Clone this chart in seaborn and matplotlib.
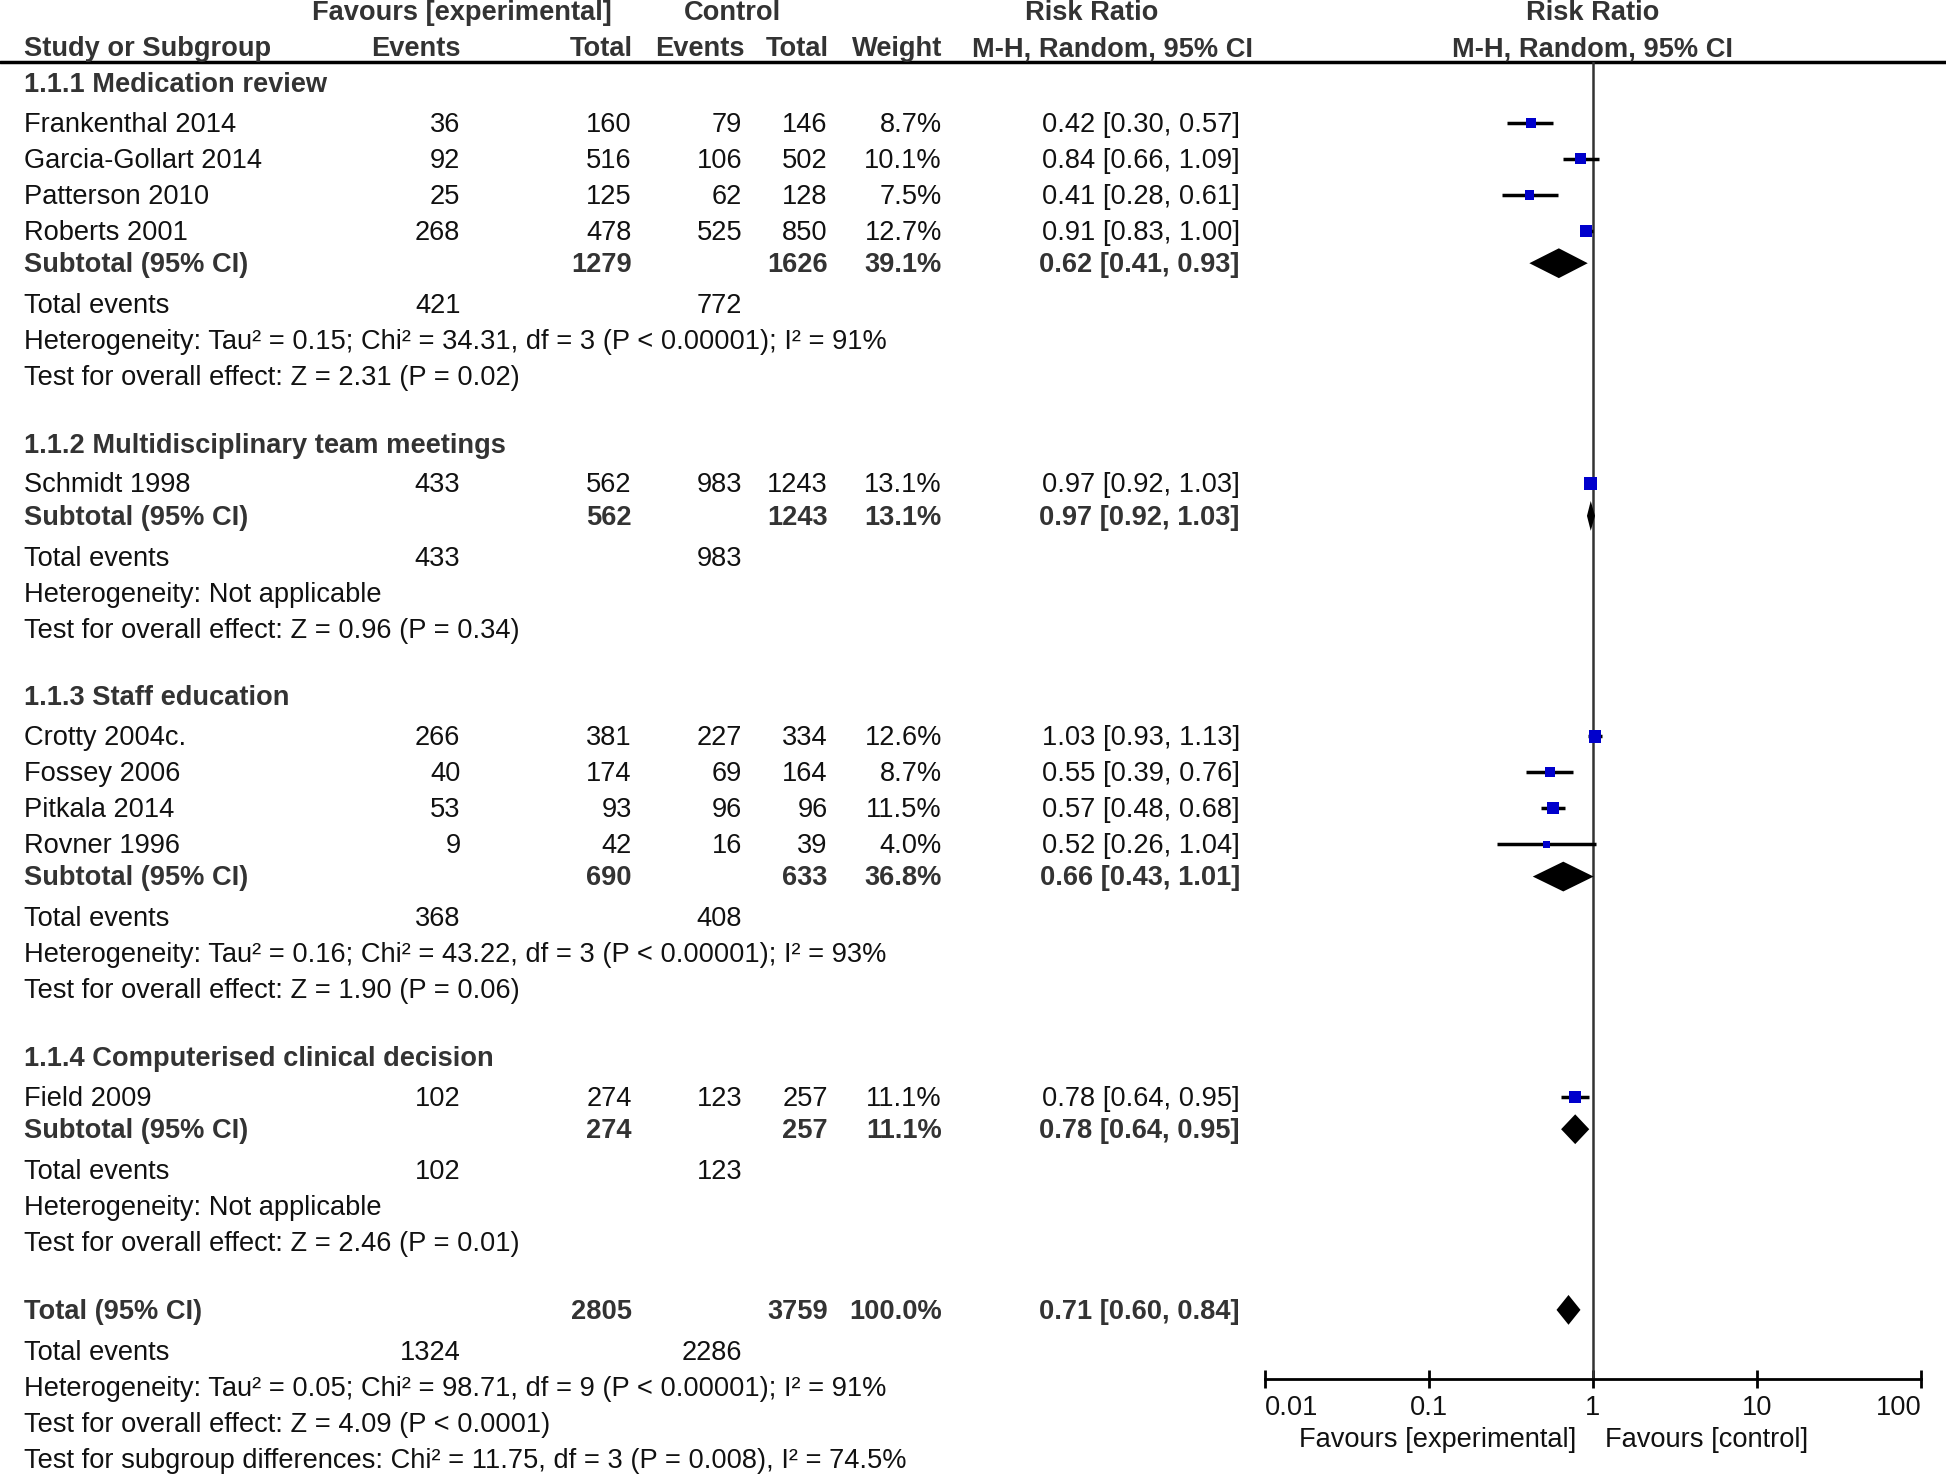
import numpy as np
import pandas as pd
import seaborn as sns
from matplotlib import pyplot as plt

# study level data
studies = ["Frankenthal 2014", "Garcia-Gollart 2014", "Patterson 2010", "Roberts 2001",
           "Schmidt 1998",
           "Crotty 2004c.", "Fossey 2006", "Pitkala 2014", "Rovner 1996",
           "Field 2009"]
study_group = [0, 0, 0, 0, 1, 2, 2, 2, 2, 3]
exp_events = [36, 92, 25, 268, 433, 266, 40, 53, 9, 102]
exp_total = [160, 516, 125, 478, 562, 381, 174, 93, 42, 274]
ctl_events = [79, 106, 62, 525, 983, 227, 69, 96, 16, 123]
ctl_total = [146, 502, 128, 850, 1243, 334, 164, 96, 39, 257]
weights = [8.7, 10.1, 7.5, 12.7, 13.1, 12.6, 8.7, 11.5, 4.0, 11.1]
rr = [0.42, 0.84, 0.41, 0.91, 0.97, 1.03, 0.55, 0.57, 0.52, 0.78]
rr_lo = [0.30, 0.66, 0.28, 0.83, 0.92, 0.93, 0.39, 0.48, 0.26, 0.64]
rr_hi = [0.57, 1.09, 0.61, 1.00, 1.03, 1.13, 0.76, 0.68, 1.04, 0.95]

# subgroup data
groups = ["1.1.1 Medication review", "1.1.2 Multidisciplinary team meetings",
          "1.1.3 Staff education", "1.1.4 Computerised clinical decision"]
sub_exp_total = [1279, 562, 690, 274]
sub_ctl_total = [1626, 1243, 633, 257]
sub_weight = [39.1, 13.1, 36.8, 11.1]
sub_rr = [0.62, 0.97, 0.66, 0.78]
sub_lo = [0.41, 0.92, 0.43, 0.64]
sub_hi = [0.93, 1.03, 1.01, 0.95]
sub_exp_events = [421, 433, 368, 102]
sub_ctl_events = [772, 983, 408, 123]
sub_het = ["Heterogeneity: Tau² = 0.15; Chi² = 34.31, df = 3 (P < 0.00001); I² = 91%",
           "Heterogeneity: Not applicable",
           "Heterogeneity: Tau² = 0.16; Chi² = 43.22, df = 3 (P < 0.00001); I² = 93%",
           "Heterogeneity: Not applicable"]
sub_effect = ["Test for overall effect: Z = 2.31 (P = 0.02)",
              "Test for overall effect: Z = 0.96 (P = 0.34)",
              "Test for overall effect: Z = 1.90 (P = 0.06)",
              "Test for overall effect: Z = 2.46 (P = 0.01)"]

# overall
tot_exp_total, tot_ctl_total, tot_weight = 2805, 3759, 100.0
tot_rr, tot_lo, tot_hi = 0.71, 0.60, 0.84
tot_exp_events, tot_ctl_events = 1324, 2286
tot_lines = ["Heterogeneity: Tau² = 0.05; Chi² = 98.71, df = 9 (P < 0.00001); I² = 91%",
             "Test for overall effect: Z = 4.09 (P < 0.0001)",
             "Test for subgroup differences: Chi² = 11.75, df = 3 (P = 0.008), I² = 74.5%"]

ticks = [0.01, 0.1, 1, 10, 100]
tick_labels = ["0.01", "0.1", "1", "10", "100"]

df = pd.DataFrame(dict(study=studies, group=study_group, e_ev=exp_events, e_n=exp_total,
                       c_ev=ctl_events, c_n=ctl_total, w=weights, rr=rr, lo=rr_lo, hi=rr_hi))

sns.set_theme(style="white")
plt.rcParams['font.family'] = ['Liberation Sans', 'DejaVu Sans']
FS = 19.6
TXT = "#111111"
BOLD = "#333333"

W, H = 1568, 1188   # layout units
fig = plt.figure(figsize=(19.46, 14.75), dpi=100)
tax = fig.add_axes([0, 0, 1, 1])
tax.set_xlim(0, W)
tax.set_ylim(H, 0)
tax.axis("off")

# column anchors (right aligned)
X_NAME, X_EEV, X_EN, X_CEV, X_CN, X_W, X_CI = 19, 371, 509, 598, 667, 759, 999
AX_L, AX_R, AX_Y, TOP_LINE = 1019, 1548, 1111, 50


def put(x, y, s, ha="right", bold=False):
    tax.text(x, y + 1.5, s, ha=ha, va="center", fontsize=FS,
             color=BOLD if bold else TXT, fontweight="bold" if bold else "normal")


# header
put(372, 9, "Favours [experimental]", ha="center", bold=True)
put(590, 9, "Control", ha="center", bold=True)
put(880, 9, "Risk Ratio", ha="center", bold=True)
put(1283, 9, "Risk Ratio", ha="center", bold=True)
put(X_NAME, 38, "Study or Subgroup", ha="left", bold=True)
for x, s in [(X_EEV, "Events"), (510, "Total"), (600, "Events"), (668, "Total"), (X_W, "Weight"),
             (1010, "M-H, Random, 95% CI")]:
    put(x, 38, s, bold=True)
put(1283, 38, "M-H, Random, 95% CI", ha="center", bold=True)
tax.plot([0, W], [TOP_LINE, TOP_LINE], color="black", lw=2.5)

# row layout
study_y = {}
sub_y = []
y = 67
for g, name in enumerate(groups):
    put(X_NAME, y, name, ha="left", bold=True)
    y += 32
    rows = df[df.group == g]
    for i, r in rows.iterrows():
        study_y[i] = y
        put(X_NAME, y, r.study, ha="left")
        put(X_EEV, y, str(r.e_ev))
        put(X_EN, y, str(r.e_n))
        put(X_CEV, y, str(r.c_ev))
        put(X_CN, y, str(r.c_n))
        put(X_W, y, f"{r.w:.1f}%")
        put(X_CI, y, f"{r.rr:.2f} [{r.lo:.2f}, {r.hi:.2f}]")
        y += 29
    y -= 3
    sub_y.append(y)
    put(X_NAME, y, "Subtotal (95% CI)", ha="left", bold=True)
    put(X_EN, y, str(sub_exp_total[g]), bold=True)
    put(X_CN, y, str(sub_ctl_total[g]), bold=True)
    put(X_W, y, f"{sub_weight[g]:.1f}%", bold=True)
    put(X_CI, y, f"{sub_rr[g]:.2f} [{sub_lo[g]:.2f}, {sub_hi[g]:.2f}]", bold=True)
    y += 33
    put(X_NAME, y, "Total events", ha="left")
    put(X_EEV, y, str(sub_exp_events[g]))
    put(X_CEV, y, str(sub_ctl_events[g]))
    y += 29
    put(X_NAME, y, sub_het[g], ha="left")
    y += 29
    put(X_NAME, y, sub_effect[g], ha="left")
    y += 54.5

tot_y = y
put(X_NAME, y, "Total (95% CI)", ha="left", bold=True)
put(X_EN, y, str(tot_exp_total), bold=True)
put(X_CN, y, str(tot_ctl_total), bold=True)
put(X_W, y, f"{tot_weight:.1f}%", bold=True)
put(X_CI, y, f"{tot_rr:.2f} [{tot_lo:.2f}, {tot_hi:.2f}]", bold=True)
y += 33
put(X_NAME, y, "Total events", ha="left")
put(X_EEV, y, str(tot_exp_events))
put(X_CEV, y, str(tot_ctl_events))
for s in tot_lines:
    y += 29
    put(X_NAME, y, s, ha="left")

# forest plot axes
ax = fig.add_axes([AX_L / W, 1 - AX_Y / H, (AX_R - AX_L) / W, (AX_Y - TOP_LINE) / H])
ax.patch.set_alpha(0)
ax.set_xscale("log")
ax.set_xlim(ticks[0], ticks[-1])
ax.set_ylim(AX_Y, TOP_LINE)
df["y"] = df.index.map(study_y)

ax.hlines(df.y, df.lo, df.hi, color="black", lw=2.5, zorder=2)
sns.scatterplot(data=df, x="rr", y="y", size="w", sizes=(22, 85), size_norm=(4, 13.1),
                marker="s", color="#0000CC", linewidth=0, legend=False, ax=ax, zorder=3)

half = 12
for c, lo, hi, yy in list(zip(sub_rr, sub_lo, sub_hi, sub_y)) + [(tot_rr, tot_lo, tot_hi, tot_y)]:
    ax.fill([lo, c, hi, c], [yy, yy - half, yy, yy + half], color="black", lw=0, zorder=3)

ax.axvline(1, color="#333333", lw=1.8, zorder=1)
ax.set_xscale("log")
ax.set_xlim(ticks[0], ticks[-1])
ax.set_ylim(AX_Y, TOP_LINE)
ax.set_xticks(ticks)
ax.set_xticklabels(tick_labels)
ax.minorticks_off()
ax.set_yticks([])
ax.set_xlabel("")
ax.set_ylabel("")
for side in ["top", "right", "left"]:
    ax.spines[side].set_visible(False)
ax.spines["bottom"].set_color("black")
ax.spines["bottom"].set_linewidth(2)
ax.tick_params(axis="x", direction="inout", length=13, width=2, color="black",
               labelsize=FS, labelcolor=TXT, pad=5, bottom=True)
labs = ax.get_xticklabels()
labs[0].set_ha("left")
labs[-1].set_ha("right")

put(1270, 1158.5, "Favours [experimental]")
put(1293, 1158.5, "Favours [control]", ha="left")

fig.savefig("out.png", dpi=100)
